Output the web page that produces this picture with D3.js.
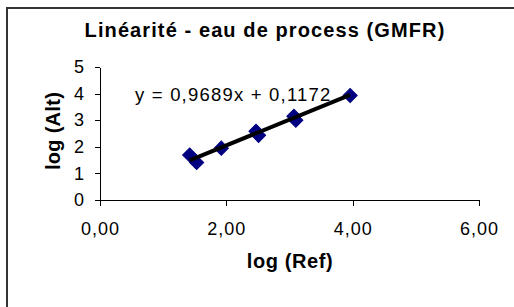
<!DOCTYPE html>
<html lang="fr">
<head>
    <meta charset="UTF-8">
    <title>Linéarité - eau de process (GMFR)</title>
    <style>
        body { margin: 0; background: #fff; }
        svg { display: block; font-family: "Liberation Sans", Arial, sans-serif; }
        .axis path, .axis line { stroke: #000; shape-rendering: crispEdges; }
        .axis text { font-size: 18px; fill: #000; letter-spacing: 1px; }
        .ttl { font-weight: bold; fill: #000; }
    </style>
</head>
<body>
    <svg width="514" height="307"></svg>
    <script src="https://d3js.org/d3.v7.min.js"></script>
    <script>
        // Data: log (Ref) vs log (Alt)
        const logRef = [1.42, 1.53, 1.92, 2.47, 2.51, 3.07, 3.10, 3.96];
        const logAlt = [1.69, 1.41, 1.95, 2.58, 2.43, 3.15, 3.00, 3.93];
        const xTicks = [0, 2, 4, 6];
        const yTicks = [0, 1, 2, 3, 4, 5];
        const slope = 0.9689, intercept = 0.1172;
        const equation = "y = 0,9689x + 0,1172";

        const svg = d3.select("svg");

        // chart frame (runs past the right and bottom edges)
        svg.append("rect")
            .attr("x", 7).attr("y", 8)
            .attr("width", 530).attr("height", 320)
            .attr("fill", "#fff")
            .attr("stroke", "#333")
            .attr("stroke-width", 2);

        // title
        svg.append("text")
            .attr("class", "ttl")
            .attr("x", 265).attr("y", 37)
            .attr("text-anchor", "middle")
            .style("font-size", "20px")
            .style("letter-spacing", "1.1px")
            .text("Linéarité - eau de process (GMFR)");

        // scales
        const x = d3.scaleLinear().domain([0, 6]).range([100, 479]);
        const y = d3.scaleLinear().domain([0, 5]).range([200, 67]);

        const fmt = d => d3.format(".2f")(d).replace(".", ",");

        svg.append("g")
            .attr("class", "axis")
            .attr("transform", "translate(0,200)")
            .call(d3.axisBottom(x).tickValues(xTicks).tickFormat(fmt)
                .tickSizeInner(6).tickSizeOuter(0).tickPadding(16));

        svg.append("g")
            .attr("class", "axis")
            .attr("transform", "translate(100,0)")
            .call(d3.axisLeft(y).tickValues(yTicks).tickFormat(d3.format("d"))
                .tickSizeInner(5).tickSizeOuter(0).tickPadding(10));

        // axis titles
        svg.append("text")
            .attr("class", "ttl")
            .attr("x", 290).attr("y", 268)
            .attr("text-anchor", "middle")
            .style("font-size", "20px")
            .style("letter-spacing", "0.6px")
            .text("log (Ref)");

        svg.append("text")
            .attr("class", "ttl")
            .attr("transform", "translate(60,131) rotate(-90)")
            .attr("text-anchor", "middle")
            .style("font-size", "20px")
            .style("letter-spacing", "0.3px")
            .text("log (Alt)");

        // points
        const pts = logRef.map((v, i) => ({ x: v, y: logAlt[i] }));
        svg.append("g").selectAll("path")
            .data(pts)
            .join("path")
            .attr("d", d3.symbol(d3.symbolSquare, 100))
            .attr("transform", d => "translate(" + x(d.x) + "," + y(d.y) + ") rotate(45)")
            .attr("fill", "#000080")
            .attr("stroke", "#000080")
            .attr("stroke-width", 1);

        // linear trend line
        const xr = d3.extent(logRef);
        const trend = xr.map(v => ({ x: v, y: slope * v + intercept }));
        svg.append("path")
            .datum(trend)
            .attr("fill", "none")
            .attr("stroke", "#000")
            .attr("stroke-width", 4)
            .attr("d", d3.line().x(d => x(d.x)).y(d => y(d.y)));

        // equation label
        svg.append("text")
            .attr("x", 135).attr("y", 101)
            .style("font-size", "18.5px")
            .style("letter-spacing", "1.2px")
            .text(equation);
    </script>
</body>
</html>
